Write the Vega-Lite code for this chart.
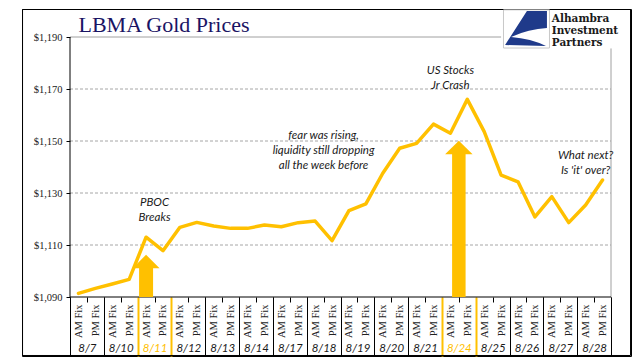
{
  "$schema": "https://vega.github.io/schema/vega-lite/v6.json",
  "width": 609,
  "height": 347,
  "autosize": {"type": "none"},
  "padding": {"left": 22, "top": 9, "right": 10, "bottom": 8},
  "background": "white",
  "config": {
    "view": {"stroke": "black", "strokeWidth": 1},
    "axis": {"labelOverlap": false, "labelBound": false}
  },
  "datasets": {
    "prices": [
      {"cat": "8/7 AM", "price": 1091.4}, {"cat": "8/7 PM", "price": 1093.3},
      {"cat": "8/10 AM", "price": 1095.0}, {"cat": "8/10 PM", "price": 1096.8},
      {"cat": "8/11 AM", "price": 1113.0}, {"cat": "8/11 PM", "price": 1107.8},
      {"cat": "8/12 AM", "price": 1116.8}, {"cat": "8/12 PM", "price": 1118.7},
      {"cat": "8/13 AM", "price": 1117.3}, {"cat": "8/13 PM", "price": 1116.4},
      {"cat": "8/14 AM", "price": 1116.4}, {"cat": "8/14 PM", "price": 1117.7},
      {"cat": "8/17 AM", "price": 1117.0}, {"cat": "8/17 PM", "price": 1118.6},
      {"cat": "8/18 AM", "price": 1119.2}, {"cat": "8/18 PM", "price": 1111.7},
      {"cat": "8/19 AM", "price": 1123.2}, {"cat": "8/19 PM", "price": 1125.8},
      {"cat": "8/20 AM", "price": 1137.6}, {"cat": "8/20 PM", "price": 1147.2},
      {"cat": "8/21 AM", "price": 1149.1}, {"cat": "8/21 PM", "price": 1156.5},
      {"cat": "8/24 AM", "price": 1153.0}, {"cat": "8/24 PM", "price": 1166.0},
      {"cat": "8/25 AM", "price": 1153.6}, {"cat": "8/25 PM", "price": 1136.9},
      {"cat": "8/26 AM", "price": 1134.3}, {"cat": "8/26 PM", "price": 1120.8},
      {"cat": "8/27 AM", "price": 1128.6}, {"cat": "8/27 PM", "price": 1118.6},
      {"cat": "8/28 AM", "price": 1125.4}, {"cat": "8/28 PM", "price": 1135.0}
    ],
    "frame": [{"cat": "8/18 AM", "y": 1130}],
    "hgrid": [
      {"a": "8/7 AM", "b": "8/28 PM", "v": 1110},
      {"a": "8/7 AM", "b": "8/28 PM", "v": 1130},
      {"a": "8/7 AM", "b": "8/28 PM", "v": 1150},
      {"a": "8/7 AM", "b": "8/28 PM", "v": 1170}
    ],
    "htop": [{"a": "8/7 AM", "b": "8/25 PM", "v": 1190}],
    "hbase": [{"a": "8/7 AM", "b": "8/28 PM", "v": 1090}],
    "vleft": [{"a": "8/7 AM", "v0": 1090, "v1": 1190}],
    "vright": [{"a": "8/28 PM", "v0": 1090, "v1": 1185.6}],
    "arrowsA": [{"cat": "8/11 AM", "bottom": 1090, "base": 1101.8, "head": 1103.7}],
    "arrowsB": [{"date": "8/24", "bottom": 1090, "base": 1145.5, "head": 1147.5}],
    "notesA": [
      {"cat": "8/24 AM", "y": 1175.8, "text": "US Stocks\nJr Crash"},
      {"cat": "8/28 AM", "y": 1143.1, "text": "What next?\nIs 'it' over?"}
    ],
    "notesB": [
      {"date": "8/11", "y": 1125.1, "text": "PBOC\nBreaks"},
      {"date": "8/18", "y": 1150.8, "text": "fear was rising,\nliquidity still dropping\nall the week before"}
    ],
    "title": [{"cat": "8/7 AM", "y": 1192.0, "text": "LBMA Gold Prices"}],
    "logoText": [
      {"cat": "8/27 AM", "y": 1195.6, "text": "Alhambra"},
      {"cat": "8/27 AM", "y": 1191.2, "text": "Investment"},
      {"cat": "8/27 AM", "y": 1186.7, "text": "Partners"}
    ],
    "logoIcon": [{"date": "8/26", "y": 1193.1}]
  },
  "layer": [
    {
      "layer": [
        {
          "data": {"name": "frame"},
          "mark": {"type": "point", "shape": "M -0.914375 -0.5734 L 0.985625 -0.5734 L 0.985625 0.5078 L -0.914375 0.5078 Z", "size": 409600, "filled": false, "fill": "transparent", "color": "black", "opacity": 1, "strokeWidth": 1},
          "encoding": {
            "x": {"field": "cat", "type": "nominal"},
            "y": {"field": "y", "type": "quantitative"}
          }
        },
        {
          "data": {"name": "hgrid"},
          "mark": {"type": "rule", "color": "#A6A6A6", "strokeDash": [3, 2], "strokeWidth": 1},
          "encoding": {
            "x": {"field": "a", "type": "nominal", "bandPosition": 0},
            "x2": {"field": "b", "bandPosition": 1},
            "y": {"field": "v", "type": "quantitative"}
          }
        },
        {
          "data": {"name": "htop"},
          "mark": {"type": "rule", "color": "#A0A0A0", "strokeWidth": 1},
          "encoding": {
            "x": {"field": "a", "type": "nominal", "bandPosition": 0},
            "x2": {"field": "b"},
            "y": {"field": "v", "type": "quantitative"}
          }
        },
        {
          "data": {"name": "vright"},
          "mark": {"type": "rule", "color": "#A0A0A0", "strokeWidth": 1},
          "encoding": {
            "x": {"field": "a", "type": "nominal", "bandPosition": 1},
            "y": {"field": "v0", "type": "quantitative"},
            "y2": {"field": "v1"}
          }
        },
        {
          "data": {"name": "vleft"},
          "mark": {"type": "rule", "color": "black", "strokeWidth": 1},
          "encoding": {
            "x": {"field": "a", "type": "nominal", "bandPosition": 0},
            "y": {"field": "v0", "type": "quantitative"},
            "y2": {"field": "v1"}
          }
        },
        {
          "data": {"name": "hbase"},
          "mark": {"type": "rule", "color": "black", "strokeWidth": 1},
          "encoding": {
            "x": {"field": "a", "type": "nominal", "bandPosition": 0},
            "x2": {"field": "b", "bandPosition": 1},
            "y": {"field": "v", "type": "quantitative"}
          }
        },
        {
          "data": {"name": "arrowsA"},
          "mark": {"type": "rule", "color": "#FFC000", "strokeWidth": 14},
          "encoding": {
            "x": {"field": "cat", "type": "nominal"},
            "y": {"field": "bottom", "type": "quantitative"},
            "y2": {"field": "base"}
          }
        },
        {
          "data": {"name": "arrowsA"},
          "mark": {"type": "point", "shape": "M -1 0.5 L 0 -0.5 L 1 0.5 Z", "size": 729, "filled": true, "color": "#FFC000", "opacity": 1, "strokeWidth": 0},
          "encoding": {
            "x": {"field": "cat", "type": "nominal"},
            "y": {"field": "head", "type": "quantitative"}
          }
        },
        {
          "data": {"name": "prices"},
          "mark": {"type": "line", "color": "#FFC000", "strokeWidth": 3.5, "strokeJoin": "round", "strokeCap": "round"},
          "encoding": {
            "x": {
              "field": "cat", "type": "nominal", "sort": null,
              "scale": {
                "type": "band",
                "domain": ["8/7 AM","8/7 PM","8/10 AM","8/10 PM","8/11 AM","8/11 PM","8/12 AM","8/12 PM","8/13 AM","8/13 PM","8/14 AM","8/14 PM","8/17 AM","8/17 PM","8/18 AM","8/18 PM","8/19 AM","8/19 PM","8/20 AM","8/20 PM","8/21 AM","8/21 PM","8/24 AM","8/24 PM","8/25 AM","8/25 PM","8/26 AM","8/26 PM","8/27 AM","8/27 PM","8/28 AM","8/28 PM"],
                "range": [48, 589], "paddingInner": 0, "paddingOuter": 0
              },
              "axis": {
                "orient": "bottom", "offset": -59, "title": null, "domain": false, "grid": false,
                "tickBand": "extent", "tickSize": 5,
                "tickColor": {"condition": {"test": "indexof(['8/10 PM','8/11 PM','8/21 PM','8/24 PM'], datum.value) >= 0", "value": "#FFC000"}, "value": "black"},
                "labelAngle": 270,
                "labelExpr": "datum.value ? split(datum.value, ' ')[1] + ' Fix' : ''",
                "labelFont": "Liberation Serif", "labelFontSize": 10.5, "labelColor": "#222222", "labelPadding": 2
              }
            },
            "y": {
              "field": "price", "type": "quantitative",
              "scale": {"domain": [1090, 1190], "range": [288, 28], "nice": false, "zero": false},
              "axis": {
                "orient": "left", "offset": -48, "title": null, "domain": false, "grid": false,
                "values": [1090, 1110, 1130, 1150, 1170, 1190], "format": "$,.0f",
                "tickSize": 4, "tickColor": "black",
                "labelFont": "Liberation Serif", "labelFontSize": 10.5, "labelColor": "#222222", "labelPadding": 4
              }
            }
          }
        },
        {
          "data": {"name": "notesA"},
          "mark": {"type": "text", "font": "Lato", "fontStyle": "italic", "fontSize": 11.5, "color": "#1a1a1a", "align": "center", "baseline": "alphabetic", "lineBreak": "\n", "lineHeight": 15},
          "encoding": {
            "x": {"field": "cat", "type": "nominal"},
            "y": {"field": "y", "type": "quantitative"},
            "text": {"field": "text", "type": "nominal"}
          }
        },
        {
          "data": {"name": "title"},
          "mark": {"type": "text", "font": "Liberation Serif", "fontSize": 22, "color": "#1A1464", "align": "left", "baseline": "alphabetic"},
          "encoding": {
            "x": {"field": "cat", "type": "nominal"},
            "y": {"field": "y", "type": "quantitative"},
            "text": {"field": "text", "type": "nominal"}
          }
        },
        {
          "data": {"name": "logoText"},
          "mark": {"type": "text", "font": "DejaVu Serif", "fontSize": 10.5, "fontWeight": "bold", "color": "#1a1a1a", "align": "left", "baseline": "alphabetic"},
          "encoding": {
            "x": {"field": "cat", "type": "nominal"},
            "y": {"field": "y", "type": "quantitative"},
            "text": {"field": "text", "type": "nominal"}
          }
        }
      ]
    },
    {
      "layer": [
        {
          "data": {"name": "arrowsB"},
          "mark": {"type": "rule", "color": "#FFC000", "strokeWidth": 13.5},
          "encoding": {
            "x": {
              "field": "date", "type": "nominal",
              "scale": {
                "type": "band",
                "domain": ["8/7","8/10","8/11","8/12","8/13","8/14","8/17","8/18","8/19","8/20","8/21","8/24","8/25","8/26","8/27","8/28"],
                "range": [48, 589], "paddingInner": 0, "paddingOuter": 0
              },
              "axis": {
                "orient": "bottom", "offset": -59, "title": null, "domain": false, "grid": false,
                "tickBand": "extent", "tickSize": 59,
                "tickColor": {"condition": {"test": "indexof(['8/10','8/11','8/21','8/24'], datum.value) >= 0", "value": "#FFC000"}, "value": "black"},
                "tickWidth": {"condition": {"test": "indexof(['8/10','8/11','8/21','8/24'], datum.value) >= 0", "value": 2}, "value": 1},
                "labelAngle": 0, "labelBaseline": "middle", "labelPadding": -8,
                "labelFont": "Lato", "labelFontStyle": "italic", "labelFontSize": 11.5,
                "labelColor": {"condition": {"test": "datum.value == '8/11' || datum.value == '8/24'", "value": "#FFC000"}, "value": "#1a1a1a"}
              }
            },
            "y": {"field": "bottom", "type": "quantitative"},
            "y2": {"field": "base"}
          }
        },
        {
          "data": {"name": "arrowsB"},
          "mark": {"type": "point", "shape": "M -1 0.5 L 0 -0.5 L 1 0.5 Z", "size": 756, "filled": true, "color": "#FFC000", "opacity": 1, "strokeWidth": 0},
          "encoding": {
            "x": {"field": "date", "type": "nominal"},
            "y": {"field": "head", "type": "quantitative"}
          }
        },
        {
          "data": {"name": "notesB"},
          "mark": {"type": "text", "font": "Lato", "fontStyle": "italic", "fontSize": 11.5, "color": "#1a1a1a", "align": "center", "baseline": "alphabetic", "lineBreak": "\n", "lineHeight": 15},
          "encoding": {
            "x": {"field": "date", "type": "nominal"},
            "y": {"field": "y", "type": "quantitative"},
            "text": {"field": "text", "type": "nominal"}
          }
        },
        {
          "data": {"name": "logoIcon"},
          "mark": {"type": "point", "shape": "M -1 -0.83 L 1 -0.83 L 1 0.83 L -1 0.83 Z", "size": 2116, "filled": false, "color": "#C8C8C8", "opacity": 1, "strokeWidth": 1},
          "encoding": {
            "x": {"field": "date", "type": "nominal"},
            "y": {"field": "y", "type": "quantitative"}
          }
        },
        {
          "data": {"name": "logoIcon"},
          "mark": {"type": "point", "shape": "M 0.02 -0.78 L 0.89 -0.78 L 0.89 -0.04 Q 0.1 0 -0.67 0.35 Q 0.2 0.42 0.85 0.74 L -0.93 0.7 Z", "size": 2116, "filled": true, "color": "#1F3A8A", "opacity": 1, "strokeWidth": 0},
          "encoding": {
            "x": {"field": "date", "type": "nominal"},
            "y": {"field": "y", "type": "quantitative"}
          }
        }
      ]
    }
  ],
  "resolve": {"scale": {"x": "independent"}, "axis": {"x": "independent"}}
}
